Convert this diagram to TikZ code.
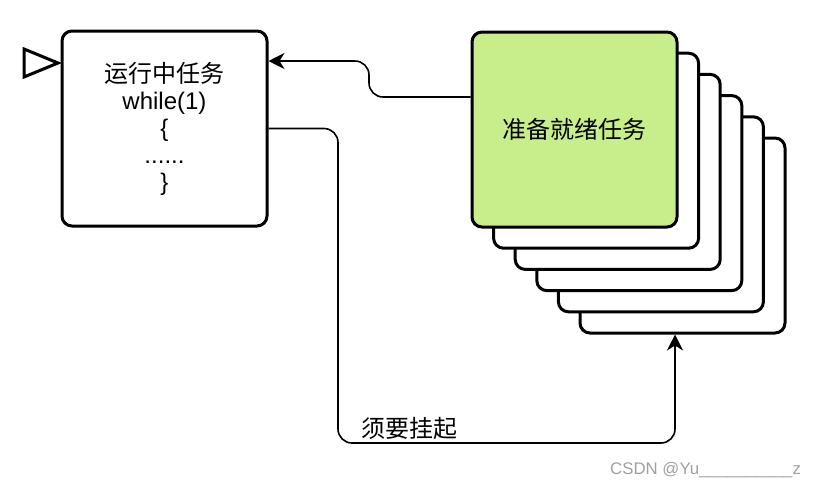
\documentclass[tikz,border=0pt]{standalone}
\usepackage{fontspec}
\setmainfont{Liberation Sans}
\newfontfamily\cjk{Noto Sans CJK SC}
\usetikzlibrary{arrows.meta,calc}
\definecolor{readygreen}{RGB}{200,238,140}
\definecolor{wmgray}{RGB}{160,160,160}
\begin{document}
\begin{tikzpicture}[x=1pt,y=-1pt,
 box/.style={draw=black, line width=3pt, rounded corners=10pt, minimum width=205pt, minimum height=195pt, inner sep=0pt, fill=white},
 conn/.style={draw=black, line width=1.6pt, rounded corners=14pt},
 tipend/.style={-{Stealth[length=16pt,width=16pt,inset=5pt]}},
 lbl/.style={font=\fontsize{24}{27}\selectfont, align=center},
 marker/.style={draw=black, line width=3pt, line join=miter, fill=white}]
\useasboundingbox (0,0) rectangle (824,488);
\foreach \i in {5,4,3,2,1} {
  \node[box] (b\i) at ({574.5+21.6*\i},{129.5+21.2*\i}) {};
}
\node[box, fill=readygreen, lbl] (ready) at (574.5,129.5) {\cjk 准备就绪任务};
\node[box, lbl] (run) at (164.5,128.5) {{\cjk 运行中任务}\\while(1)\\\{\\......\\\}};
\draw[marker] (24,49) -- (58,63) -- (24,77) -- cycle;
\coordinate (k1) at (369,97);
\coordinate (k2) at (369,61);
\draw[conn,tipend] ([yshift=32.5pt]ready.west) -- (k1) -- (k2) -- ([yshift=67.5pt]run.east);
\coordinate (k3) at (338,128.5);
\coordinate (k4) at (338,443);
\coordinate (k5) at (675,443);
\draw[conn,tipend] (run.east) -- (k3) -- (k4) -- (k5) -- ([xshift=-7.5pt]b5.south);
\node[lbl, inner sep=0pt] (susp) at (409.5,428) {\cjk 须要挂起};
\node[anchor=west, text=wmgray, font=\fontsize{16.8}{20}\selectfont, inner sep=0pt] (wm) at (610,470) {CSDN @Yu\_\_\_\_\_\_\_\_\_\_z};
\end{tikzpicture}
\end{document}
